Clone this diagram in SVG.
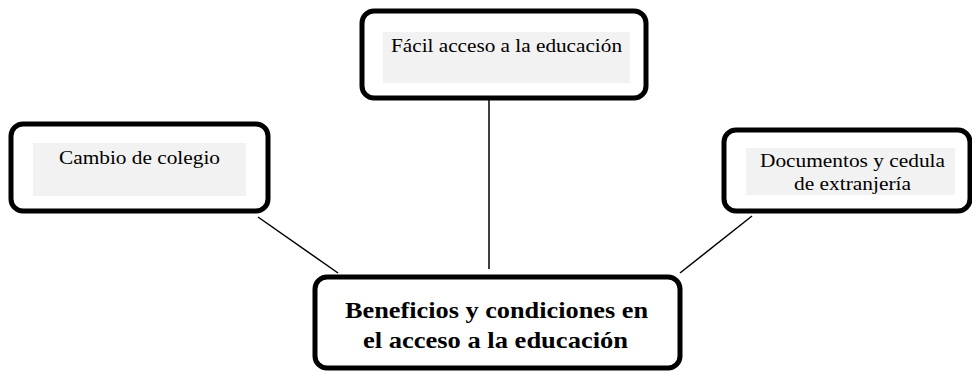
<svg xmlns="http://www.w3.org/2000/svg" width="972" height="373" viewBox="0 0 972 373">
<style>
.box{fill:#fff;stroke:#000;stroke-width:5}
.hl{fill:#f2f2f2}
.t{font-family:"Liberation Serif","Times New Roman",serif;font-size:19px;fill:#000}
.b{font-family:"Liberation Serif","Times New Roman",serif;font-size:24px;font-weight:bold;fill:#000}
.c{stroke:#000;stroke-width:1.5;fill:none}
</style>
<rect width="972" height="373" fill="#fff"/>
<g id="connectors">
<line class="c" x1="489" y1="100" x2="489" y2="269"/>
<line class="c" x1="258" y1="217" x2="338" y2="273"/>
<line class="c" x1="752" y1="216" x2="680" y2="273"/>
</g>
<g id="top">
<rect class="box" x="362" y="11" width="284" height="87" rx="12"/>
<rect class="hl" x="383" y="32" width="247" height="51"/>
<text class="t" x="391" y="52" textLength="231" lengthAdjust="spacingAndGlyphs">Fácil acceso a la educación</text>
</g>
<g id="left">
<rect class="box" x="11" y="124" width="257" height="87" rx="12"/>
<rect class="hl" x="33" y="143" width="213" height="53"/>
<text class="t" x="59" y="164" textLength="161" lengthAdjust="spacingAndGlyphs">Cambio de colegio</text>
</g>
<g id="right">
<rect class="box" x="724" y="130" width="246" height="81" rx="12"/>
<rect class="hl" x="746" y="148" width="209" height="47"/>
<text class="t" x="760" y="167" textLength="185" lengthAdjust="spacingAndGlyphs">Documentos y cedula</text>
<text class="t" x="794" y="190" textLength="117" lengthAdjust="spacingAndGlyphs">de extranjería</text>
</g>
<g id="center">
<rect class="box" x="315" y="277" width="365" height="91" rx="12"/>
<text class="b" x="345" y="318" textLength="303" lengthAdjust="spacingAndGlyphs">Beneficios y condiciones en</text>
<text class="b" x="363" y="348" textLength="265" lengthAdjust="spacingAndGlyphs">el acceso a la educación</text>
</g>
</svg>
